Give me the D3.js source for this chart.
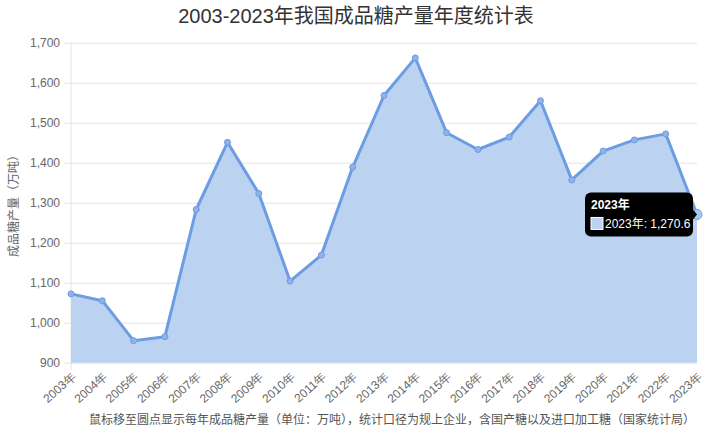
<!DOCTYPE html>
<html><head><meta charset="utf-8">
<script src="https://cdn.jsdelivr.net/npm/d3@7/dist/d3.min.js"></script>
<style>
html,body{margin:0;padding:0;background:#fff;}
svg{display:block;font-family:"Liberation Sans",Arial,"Noto Sans CJK SC",sans-serif;}
</style></head>
<body>
<svg id="c" width="713" height="440"></svg>
<script>
const years = ["2003年","2004年","2005年","2006年","2007年","2008年","2009年","2010年","2011年","2012年","2013年","2014年","2015年","2016年","2017年","2018年","2019年","2020年","2021年","2022年","2023年"];
const production = [1072,1055,955,965,1283,1451,1323,1104,1169,1389,1568,1662,1475,1433,1464,1555,1357,1429,1457,1472,1270.6];
const yTicks = [900,1000,1100,1200,1300,1400,1500,1600,1700];
const titleText = "2003-2023年我国成品糖产量年度统计表";
const yLabel = "成品糖产量（万吨）";
const noteText = "鼠标移至圆点显示每年成品糖产量（单位：万吨），统计口径为规上企业，含国产糖以及进口加工糖（国家统计局）";

const svg = d3.select("#c");
const pL = 71, pR = 697, pT = 42.7, pB = 362.7;
const x = d3.scalePoint().domain(years).range([pL, pR]);
const y = d3.scaleLinear().domain([900,1700]).range([pB, pT]);
const fmt = d3.format(",");

// title
svg.append("text").attr("x",356).attr("y",23).attr("text-anchor","middle")
  .attr("font-size",20).attr("fill","#333").text(titleText);

// grid
const yAxis = d3.axisLeft(y).tickValues(yTicks).tickFormat(fmt).tickSize(pR-pL+7).tickPadding(4);
const gy = svg.append("g").attr("transform",`translate(${pR},0)`).call(yAxis);
gy.select(".domain").remove();
gy.selectAll(".tick line").attr("stroke","#e4e4e4").attr("stroke-width",1);
gy.selectAll(".tick text").attr("font-size",12).attr("fill","#666").attr("font-family","Liberation Sans, Arial, sans-serif");
// left axis line
svg.append("line").attr("x1",pL).attr("x2",pL).attr("y1",pT).attr("y2",pB+7).attr("stroke","#e4e4e4");

// x axis labels
const xAxis = d3.axisBottom(x).tickSize(0).tickPadding(0);
const gx = svg.append("g").attr("transform",`translate(0,${pB})`).call(xAxis);
gx.select(".domain").remove();
gx.selectAll(".tick text").attr("font-size",12).attr("fill","#666")
  .attr("text-anchor","end").attr("dy",0)
  .attr("transform","translate(5,15) rotate(-42)");

// area
const area = d3.area().x((d,i)=>x(years[i])).y0(pB).y1(d=>y(d));
svg.append("path").datum(production).attr("d",area).attr("fill","#bcd2f1");
const line = d3.line().x((d,i)=>x(years[i])).y(d=>y(d));
svg.append("path").datum(production).attr("d",line).attr("fill","none")
  .attr("stroke","#6c9de2").attr("stroke-width",3).attr("stroke-linejoin","round");

svg.selectAll("circle.pt").data(production).join("circle").attr("class","pt")
  .attr("cx",(d,i)=>x(years[i])).attr("cy",d=>y(d))
  .attr("r",(d,i)=>i===production.length-1?5:3)
  .attr("fill",(d,i)=>i===production.length-1?"#a9c8f3":"#8fb3e8")
  .attr("stroke","#6c9de2").attr("stroke-width",1);

// y label
svg.append("text").attr("transform","translate(18,203) rotate(-90)")
  .attr("text-anchor","middle").attr("font-size",12).attr("fill","#666")
  .attr("font-family","Noto Sans CJK SC, sans-serif").text(yLabel);

// note
svg.append("text").attr("x",392).attr("y",424).attr("text-anchor","middle")
  .attr("font-size",12).attr("fill","#555").attr("font-family","Noto Sans CJK SC, sans-serif").text(noteText);

// tooltip
const last = production.length-1;
const px = x(years[last]), py = y(production[last]);
const tw = 108, th = 44, tx = px - 4 - tw, ty = py - th/2;
const tt = svg.append("g");
tt.append("rect").attr("x",tx).attr("y",ty).attr("width",tw).attr("height",th).attr("rx",6).attr("fill","#000");
tt.append("path").attr("d",`M${tx+tw},${py-5} L${tx+tw+4},${py} L${tx+tw},${py+5} Z`).attr("fill","#000");
tt.append("text").attr("x",tx+6).attr("y",ty+17).attr("fill","#fff").attr("font-size",12).attr("font-weight","bold").text(years[last]);
tt.append("rect").attr("x",tx+6).attr("y",ty+25).attr("width",12).attr("height",12).attr("fill","#bcd2f1").attr("stroke","#fff").attr("stroke-width",1);
tt.append("text").attr("x",tx+20).attr("y",ty+36).attr("fill","#fff").attr("font-size",12).text(years[last]+": "+fmt(production[last]));
</script>
</body></html>
